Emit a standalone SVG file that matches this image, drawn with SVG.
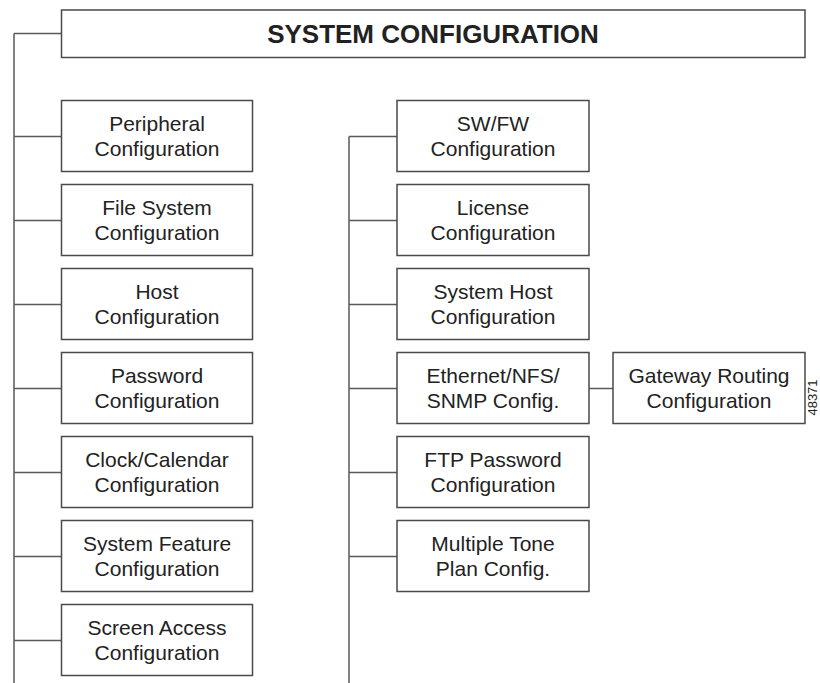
<svg xmlns="http://www.w3.org/2000/svg" width="820" height="683" viewBox="0 0 820 683">
<style>
.box{fill:#fff;stroke:#4a4a4a;stroke-width:1.5}
.t{font-family:"Liberation Sans",Arial,sans-serif;font-size:21px;fill:#222;text-anchor:middle}
.title{font-family:"Liberation Sans",Arial,sans-serif;font-size:26px;font-weight:bold;fill:#222;text-anchor:middle}
.c{fill:none;stroke:#5a5a5a;stroke-width:1.5}
</style>
<rect width="820" height="683" fill="#fff"/>
<g id="connectors">
<path class="c" d="M14 33.5V683M14 33.5H61.5"/>
<path class="c" d="M14 136.5H61.5M14 220.5H61.5M14 304.5H61.5M14 388.5H61.5M14 472.5H61.5M14 556.5H61.5M14 640.5H61.5"/>
<path class="c" d="M349 136.5V683M349 136.5H397M349 220.5H397M349 304.5H397M349 388.5H397M349 472.5H397M349 556.5H397"/>
<path class="c" d="M589 388.5H613"/>
</g>
<g id="system-configuration">
<rect class="box" x="61.5" y="10" width="743.5" height="47.5"/>
<text class="title" x="433" y="42.5">SYSTEM CONFIGURATION</text>
</g>
<g id="peripheral"><rect class="box" x="61.5" y="100.5" width="191" height="71"/><text class="t" x="157" y="130.5">Peripheral</text><text class="t" x="157" y="155.5">Configuration</text></g>
<g id="file-system"><rect class="box" x="61.5" y="184.5" width="191" height="71"/><text class="t" x="157" y="214.5">File System</text><text class="t" x="157" y="239.5">Configuration</text></g>
<g id="host"><rect class="box" x="61.5" y="268.5" width="191" height="71"/><text class="t" x="157" y="298.5">Host</text><text class="t" x="157" y="323.5">Configuration</text></g>
<g id="password"><rect class="box" x="61.5" y="352.5" width="191" height="71"/><text class="t" x="157" y="382.5">Password</text><text class="t" x="157" y="407.5">Configuration</text></g>
<g id="clock-calendar"><rect class="box" x="61.5" y="436.5" width="191" height="71"/><text class="t" x="157" y="466.5">Clock/Calendar</text><text class="t" x="157" y="491.5">Configuration</text></g>
<g id="system-feature"><rect class="box" x="61.5" y="520.5" width="191" height="71"/><text class="t" x="157" y="550.5">System Feature</text><text class="t" x="157" y="575.5">Configuration</text></g>
<g id="screen-access"><rect class="box" x="61.5" y="604.5" width="191" height="71"/><text class="t" x="157" y="634.5">Screen Access</text><text class="t" x="157" y="659.5">Configuration</text></g>
<g id="sw-fw"><rect class="box" x="397" y="100.5" width="192" height="71"/><text class="t" x="493" y="130.5">SW/FW</text><text class="t" x="493" y="155.5">Configuration</text></g>
<g id="license"><rect class="box" x="397" y="184.5" width="192" height="71"/><text class="t" x="493" y="214.5">License</text><text class="t" x="493" y="239.5">Configuration</text></g>
<g id="system-host"><rect class="box" x="397" y="268.5" width="192" height="71"/><text class="t" x="493" y="298.5">System Host</text><text class="t" x="493" y="323.5">Configuration</text></g>
<g id="ethernet-nfs-snmp"><rect class="box" x="397" y="352.5" width="192" height="71"/><text class="t" x="493" y="382.5">Ethernet/NFS/</text><text class="t" x="493" y="407.5">SNMP Config.</text></g>
<g id="ftp-password"><rect class="box" x="397" y="436.5" width="192" height="71"/><text class="t" x="493" y="466.5">FTP Password</text><text class="t" x="493" y="491.5">Configuration</text></g>
<g id="multiple-tone"><rect class="box" x="397" y="520.5" width="192" height="71"/><text class="t" x="493" y="550.5">Multiple Tone</text><text class="t" x="493" y="575.5">Plan Config.</text></g>
<g id="gateway-routing"><rect class="box" x="613" y="352.5" width="192" height="71"/><text class="t" x="709" y="382.5">Gateway Routing</text><text class="t" x="709" y="407.5">Configuration</text></g>
<text x="816.5" y="397.5" transform="rotate(-90 816.5 397.5)" font-family="Liberation Sans, Arial, sans-serif" font-size="13" fill="#222" text-anchor="middle">48371</text>
</svg>
